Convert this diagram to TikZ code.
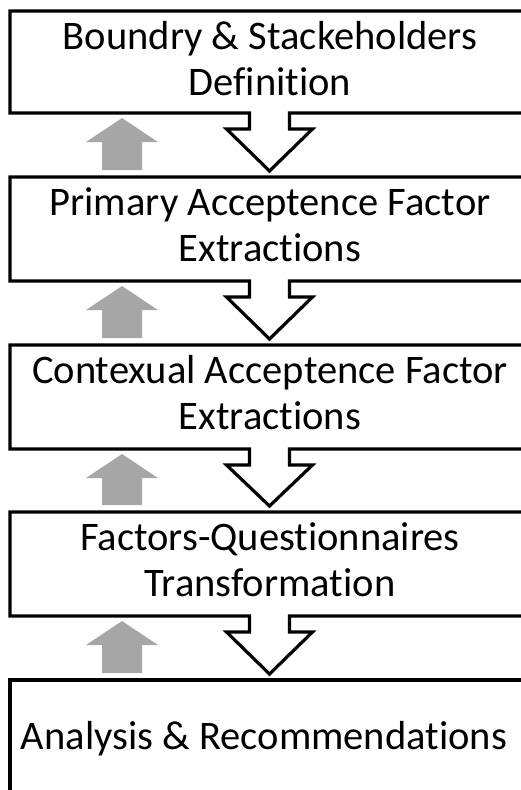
\documentclass[tikz,border=0pt]{standalone}
\usepackage{fontspec}
\setmainfont{Carlito}[Ligatures=NoCommon]
\definecolor{arrowgray}{RGB}{166,166,166}
\begin{document}
\begin{tikzpicture}[x=0.75pt,y=-0.75pt,
  boxline/.style={draw=black,line width=2.4pt,fill=white,line join=miter},
  uparrow/.style={fill=arrowgray,draw=none},
  boxtext/.style={font=\fontsize{30.4}{34.5}\selectfont,align=center,inner sep=0pt}]
\useasboundingbox (0,0) rectangle (521,790);
\begin{scope}
\clip (0,0) rectangle (521,790);
\foreach \T/\B/\N in {11/113/177, 177/281/345, 345/449/512, 512/616/680} {
  \draw[boxline] (289.5,\B) -- (289.5,\B+16) -- (312.5,\B+16) -- (269.5,\N-6) -- (226.5,\B+16) -- (249.5,\B+16) -- (249.5,\B) -- (10,\B) -- (10,\T) -- (545,\T) -- (545,\B) -- cycle;
  \fill[uparrow] (122,\B+5) -- (158,\B+29) -- (142,\B+29) -- (142,\N-7) -- (102,\N-7) -- (102,\B+29) -- (86,\B+29) -- cycle;
}
\draw[boxline,fill=none] (10,800) -- (10,680) -- (545,680);
\end{scope}
\node[boxtext] (t1) at (270,59) {Boundry \& Stackeholders\\Definition};
\node[boxtext] (t2) at (270,225) {Primary Acceptence Factor\\Extractions};
\node[boxtext] (t3) at (270,393) {Contexual Acceptence Factor\\Extractions};
\node[boxtext] (t4) at (270,560) {Factors-Questionnaires\\Transformation};
\node[boxtext,anchor=base] (t5) at (264,749) {Analysis \& Recommendations};
\end{tikzpicture}
\end{document}
